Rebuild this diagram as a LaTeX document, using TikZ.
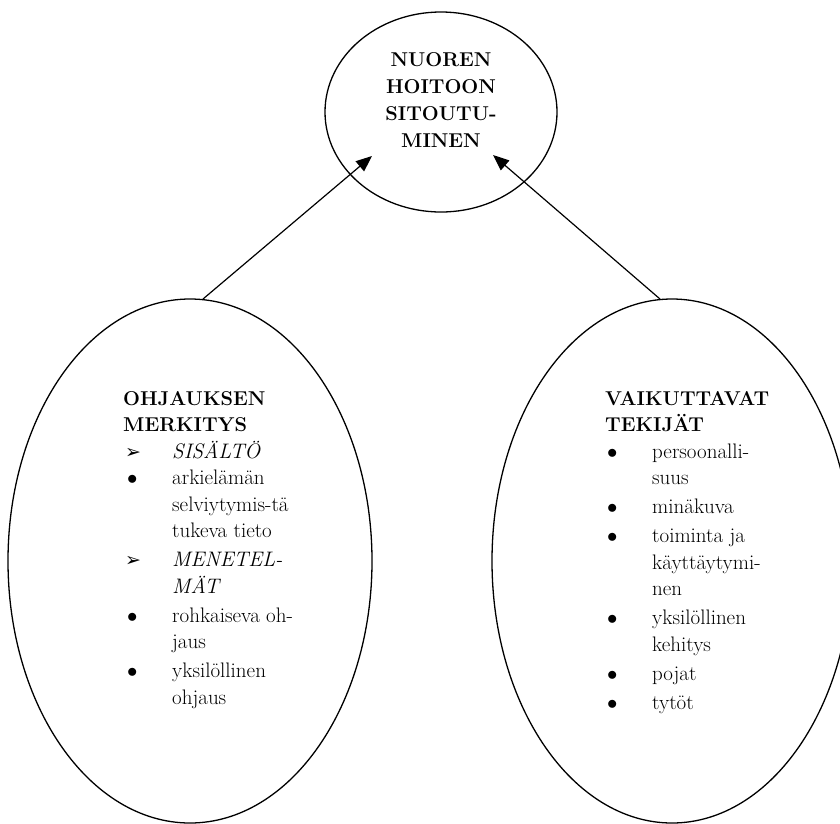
\documentclass[tikz,border=0pt]{standalone}
\usepackage{fontspec}
\newfontfamily\dingfont{DejaVu Sans}
\usetikzlibrary{shapes.geometric,arrows.meta}
\newcommand\bulL{\hspace*{4pt}\makebox[45pt][l]{$\bullet$}}
\newcommand\arwL{\hspace*{2pt}\makebox[47pt][l]{\dingfont\fontsize{19}{19}\selectfont ➢}}
\newcommand\indL{\hspace*{49pt}}
\newcommand\bulR{\hspace*{2pt}\makebox[45pt][l]{$\bullet$}}
\newcommand\indR{\hspace*{47pt}}
\newcommand\hd[1]{{\bfseries\fontsize{20}{26.5}\selectfont #1}}
\begin{document}
\begin{tikzpicture}[x=1pt,y=-1pt,
  bubble/.style={ellipse,draw,line width=1.3pt,inner sep=0pt,outer sep=0pt},
  arr/.style={line width=1.2pt,-{Triangle[length=16pt,width=13pt]}},
  list/.style={anchor=north west,align=left,inner sep=0pt,font=\fontsize{21}{26.5}\selectfont},
  head/.style={align=center,inner sep=0pt,font=\bfseries\fontsize{20}{27}\selectfont}]
\useasboundingbox (0,0) rectangle (840,823);
\clip (0,0) rectangle (840,823);
\node[bubble,minimum width=232pt,minimum height=200pt] (T) at (441,112) {};
\node[bubble,minimum width=364pt,minimum height=524pt] (L) at (190,561) {};
\node[bubble,minimum width=360pt,minimum height=524pt] (R) at (672,561) {};
\node[head] (Tt) at (441,100) {NUOREN\\HOITOON\\SITOUTU-\\MINEN};
\node[list] (Lt) at (123,391) {%
\hd{OHJAUKSEN}\\
\hd{MERKITYS}\\
\arwL\textit{SISÄLTÖ}\\
\bulL arkielämän\\
\indL selviytymis-tä\\
\indL tukeva tieto\\[2.5pt]
\arwL\textit{MENETEL-}\\
\indL\textit{MÄT}\\[2.5pt]
\bulL rohkaiseva oh-\\
\indL jaus\\[2.5pt]
\bulL yksilöllinen\\
\indL ohjaus};
\node[list] (Rt) at (605,391) {%
\hd{VAIKUTTAVAT}\\
\hd{TEKIJÄT}\\
\bulR persoonalli-\\
\indR suus\\[2.5pt]
\bulR minäkuva\\[2.5pt]
\bulR toiminta ja\\
\indR käyttäytymi-\\
\indR nen\\[2.5pt]
\bulR yksilöllinen\\
\indR kehitys\\[2.5pt]
\bulR pojat\\[2.5pt]
\bulR tytöt};
\coordinate (ls) at ([xshift=13pt]L.north);
\coordinate (lt) at (372,156);
\coordinate (rs) at ([xshift=-12pt]R.north);
\coordinate (rt) at (493,155);
\draw[arr] (ls) -- (lt);
\draw[arr] (rs) -- (rt);
\end{tikzpicture}
\end{document}
